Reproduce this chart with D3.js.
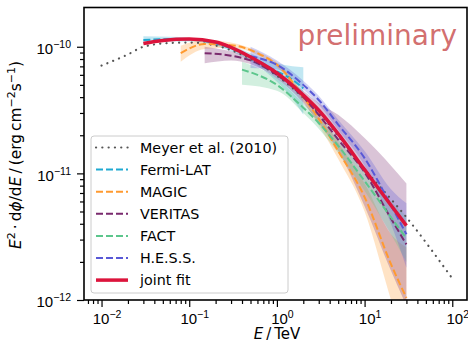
<!DOCTYPE html>
<html>
<head>
<meta charset="utf-8">
<script src="https://cdn.jsdelivr.net/npm/d3@7"></script>
<style>
body { margin: 0; background: #fff; }
svg { font-family: "DejaVu Sans", sans-serif; }
</style>
</head>
<body>
<div id="chart"></div>
<script>
// energies in TeV, E^2 dphi/dE in erg cm^-2 s^-1
var meyerE = [0.01, 0.02, 0.03, 0.06, 0.1, 0.3, 1, 3, 10, 30, 100];
var meyerF = [7.1e-11, 8.7e-11, 1.0e-10, 1.07e-10, 1.08e-10, 9.4e-11, 5.9e-11, 3.0e-11, 1.08e-11, 4.5e-12, 1.48e-12];

var fermiE  = [0.03, 0.06, 0.1, 0.2, 0.3, 0.5, 1, 1.5, 2];
var fermiF  = [1.13e-10, 1.15e-10, 1.14e-10, 1.06e-10, 9.7e-11, 8.3e-11, 6.4e-11, 5.5e-11, 4.7e-11];
var fermiLo = [1.05e-10, 1.1e-10, 1.1e-10, 1.02e-10, 9.2e-11, 7.7e-11, 5.3e-11, 3.9e-11, 2.9e-11];
var fermiHi = [1.21e-10, 1.2e-10, 1.18e-10, 1.1e-10, 1.02e-10, 8.9e-11, 7.4e-11, 7.0e-11, 6.9e-11];

var magicE  = [0.08, 0.15, 0.3, 0.6, 1.1, 2, 3, 5, 10, 20, 30];
var magicF  = [8.9e-11, 1.05e-10, 1.03e-10, 8.9e-11, 6.8e-11, 4.0e-11, 2.7e-11, 1.5e-11, 6.5e-12, 1.92e-12, 1.04e-12];
var magicLo = [7.6e-11, 9.6e-11, 9.8e-11, 8.6e-11, 6.5e-11, 3.7e-11, 2.4e-11, 1.3e-11, 5.0e-12, 1.0e-12, 4e-13];
var magicHi = [1.02e-10, 1.13e-10, 1.08e-10, 9.2e-11, 7.1e-11, 4.3e-11, 3.0e-11, 1.75e-11, 8.3e-12, 3.3e-12, 2.6e-12];

var veritasE  = [0.15, 0.3, 0.5, 1, 2, 3, 5, 10, 20, 30];
var veritasF  = [8.9e-11, 8.5e-11, 7.8e-11, 6.0e-11, 4.0e-11, 2.9e-11, 1.85e-11, 1.02e-11, 4.4e-12, 2.75e-12];
var veritasLo = [7.4e-11, 7.8e-11, 7.3e-11, 5.6e-11, 3.6e-11, 2.5e-11, 1.5e-11, 5.5e-12, 1.7e-12, 9e-13];
var veritasHi = [1.0e-10, 9.2e-11, 8.3e-11, 6.4e-11, 4.5e-11, 3.6e-11, 2.9e-11, 1.9e-11, 1.15e-11, 8.3e-12];

var factE  = [0.4, 1, 2, 3, 5, 10, 20, 30];
var factF  = [6.6e-11, 5.0e-11, 3.3e-11, 2.5e-11, 1.65e-11, 8.7e-12, 4.5e-12, 3.06e-12];
var factLo = [5.0e-11, 4.5e-11, 3.0e-11, 2.25e-11, 1.45e-11, 7.3e-12, 3.3e-12, 2.0e-12];
var factHi = [7.6e-11, 5.6e-11, 3.6e-11, 2.75e-11, 1.85e-11, 1.03e-11, 6.0e-12, 4.6e-12];

var hessE  = [0.5, 1, 2, 3, 5, 10, 20, 30];
var hessF  = [8.4e-11, 7.2e-11, 5.0e-11, 3.8e-11, 2.43e-11, 1.32e-11, 5.6e-12, 3.3e-12];
var hessLo = [6.8e-11, 6.6e-11, 4.6e-11, 3.5e-11, 2.2e-11, 1.15e-11, 4.0e-12, 1.8e-12];
var hessHi = [1.0e-10, 7.8e-11, 5.4e-11, 4.1e-11, 2.65e-11, 1.5e-11, 7.5e-12, 5.8e-12];

var jointE = [0.03, 0.05, 0.1, 0.2, 0.3, 0.5, 1, 2, 3, 5, 10, 20, 30];
var jointF = [1.06e-10, 1.12e-10, 1.15e-10, 1.09e-10, 9.9e-11, 8.3e-11, 6.2e-11, 4.15e-11, 3.15e-11, 2.05e-11, 1.07e-11, 5.6e-12, 3.87e-12];

var xTicks = [1e-2, 1e-1, 1, 1e1, 1e2];
var xTickExp = ["−2", "−1", "0", "1", "2"];
var yTicks = [1e-12, 1e-11, 1e-10];
var yTickExp = ["−12", "−11", "−10"];

var width = 468, height = 344;
var plot = {left: 84, right: 467, top: 7.5, bottom: 300};

var svg = d3.select("#chart").append("svg")
    .attr("width", width)
    .attr("height", height);

var x = d3.scaleLog()
    .domain([Math.pow(10, -2.2), Math.pow(10, 2.168)])
    .range([plot.left, plot.right]);

var y = d3.scaleLog()
    .domain([1e-12, Math.pow(10, -9.69)])
    .range([plot.bottom, plot.top]);

svg.append("clipPath").attr("id", "clip")
    .append("rect")
    .attr("x", plot.left).attr("y", plot.top)
    .attr("width", plot.right - plot.left)
    .attr("height", plot.bottom - plot.top);

var g = svg.append("g").attr("clip-path", "url(#clip)");

function zip(E, F, lo, hi) {
    return E.map(function(e, i) {
        return {e: e, f: F[i], lo: lo ? lo[i] : null, hi: hi ? hi[i] : null};
    });
}

var series = [
    {name: "Meyer et al. (2010)", color: "#555555", data: zip(meyerE, meyerF), dash: "0.1,6.2", width: 2.2, cap: "round"},
    {name: "Fermi-LAT", color: "#1fa9d2", data: zip(fermiE, fermiF, fermiLo, fermiHi), dash: "7,3", width: 2},
    {name: "MAGIC", color: "#ff9a30", data: zip(magicE, magicF, magicLo, magicHi), dash: "7,3", width: 2},
    {name: "VERITAS", color: "#7a2a6e", data: zip(veritasE, veritasF, veritasLo, veritasHi), dash: "7,3", width: 2},
    {name: "FACT", color: "#5cc68c", data: zip(factE, factF, factLo, factHi), dash: "7,3", width: 2},
    {name: "H.E.S.S.", color: "#5858d6", data: zip(hessE, hessF, hessLo, hessHi), dash: "7,3", width: 2},
    {name: "joint fit", color: "#dc143c", data: zip(jointE, jointF), dash: null, width: 3.5}
];

var area = d3.area()
    .x(function(d) { return x(d.e); })
    .y0(function(d) { return y(d.lo); })
    .y1(function(d) { return y(d.hi); })
    .curve(d3.curveMonotoneX);

var line = d3.line()
    .x(function(d) { return x(d.e); })
    .y(function(d) { return y(d.f); })
    .curve(d3.curveMonotoneX);

// bands under all lines
series.forEach(function(s) {
    if (s.data[0].lo === null) return;
    g.append("path")
        .datum(s.data)
        .attr("d", area)
        .style("fill", s.color)
        .style("fill-opacity", 0.28)
        .style("stroke", "none");
});

series.forEach(function(s) {
    g.append("path")
        .datum(s.data)
        .attr("d", line)
        .style("fill", "none")
        .style("stroke", s.color)
        .style("stroke-width", s.width)
        .style("stroke-dasharray", s.dash)
        .style("stroke-linecap", s.cap || "butt");
});

// axes
var xMinor = [], yMinor = [];
for (var p = -3; p <= 2; p++) {
    for (var k = 2; k <= 9; k++) {
        var v = k * Math.pow(10, p);
        if (v > x.domain()[0] && v < x.domain()[1]) xMinor.push(v);
    }
}
for (var q = -12; q <= -10; q++) {
    for (var m = 2; m <= 9; m++) {
        var w = m * Math.pow(10, q);
        if (y(w) > plot.top + 3) yMinor.push(w);
    }
}

function styleAxis(sel) {
    sel.select(".domain").remove();
    sel.selectAll("line").style("stroke", "#000").style("stroke-width", 1.2);
}

svg.append("g")
    .attr("transform", "translate(0," + plot.bottom + ")")
    .call(d3.axisBottom(x).tickValues(xMinor).tickSize(4).tickFormat(""))
    .call(styleAxis);

svg.append("g")
    .attr("transform", "translate(" + plot.left + ",0)")
    .call(d3.axisLeft(y).tickValues(yMinor).tickSize(4).tickFormat(""))
    .call(styleAxis);

var xAxisG = svg.append("g")
    .attr("transform", "translate(0," + plot.bottom + ")")
    .call(d3.axisBottom(x).tickValues(xTicks).tickSize(7).tickPadding(6).tickFormat(""))
    .call(styleAxis);

var yAxisG = svg.append("g")
    .attr("transform", "translate(" + plot.left + ",0)")
    .call(d3.axisLeft(y).tickValues(yTicks).tickSize(7).tickPadding(6).tickFormat(""))
    .call(styleAxis);

function powerLabel(sel, exps) {
    sel.selectAll(".tick text").each(function(d, i) {
        var t = d3.select(this)
            .style("font-size", "15px")
            .style("fill", "#000")
            .attr("font-family", null);
        t.append("tspan").text("10");
        t.append("tspan").attr("dy", "-6").style("font-size", "10.5px").text(exps[i]);
    });
}
powerLabel(xAxisG, xTickExp);
powerLabel(yAxisG, yTickExp);
xAxisG.selectAll(".tick text").attr("dy", "0.71em").attr("dx", "5");
yAxisG.selectAll(".tick text").attr("dy", "0.45em");

// frame
svg.append("rect")
    .attr("x", plot.left).attr("y", plot.top)
    .attr("width", plot.right - plot.left)
    .attr("height", plot.bottom - plot.top)
    .style("fill", "none")
    .style("stroke", "#000")
    .style("stroke-width", 1.6);

// axis titles
var xt = svg.append("text")
    .attr("x", 277).attr("y", 339)
    .attr("text-anchor", "middle")
    .style("font-size", "15px");
xt.append("tspan").style("font-style", "italic").text("E");
xt.append("tspan").text("\u2009/\u2009TeV");

var yt = svg.append("text")
    .attr("transform", "translate(21,155) rotate(-90)")
    .attr("text-anchor", "middle")
    .style("font-size", "15.4px");
var yParts = [
    {t: "E", it: true}, {t: "2", sup: true}, {t: "\u2009·\u2009d"}, {t: "ϕ", it: true},
    {t: "/d"}, {t: "E", it: true}, {t: "\u2009/\u2009(erg\u2009cm"}, {t: "−2", sup: true},
    {t: "s"}, {t: "−1", sup: true}, {t: ")"}
];
var shifted = false;
yParts.forEach(function(pt) {
    var ts = yt.append("tspan").text(pt.t);
    if (pt.it) ts.style("font-style", "italic");
    if (pt.sup) {
        ts.attr("dy", shifted ? 0 : -6.5).style("font-size", "11px");
        shifted = true;
    } else if (shifted) {
        ts.attr("dy", 6.5);
        shifted = false;
    }
});

// preliminary stamp
svg.append("text")
    .attr("x", 457).attr("y", 45)
    .attr("text-anchor", "end")
    .style("font-size", "28px")
    .style("fill", "#cd5c5c")
    .style("fill-opacity", 0.9)
    .text("preliminary");

// legend
var legend = svg.append("g");
legend.append("rect")
    .attr("x", 91).attr("y", 136)
    .attr("width", 197).attr("height", 157)
    .attr("rx", 3)
    .style("fill", "#fff")
    .style("fill-opacity", 0.8)
    .style("stroke", "#cccccc")
    .style("stroke-width", 1);

series.forEach(function(s, i) {
    var ly = 147.5 + i * 22.1;
    legend.append("line")
        .attr("x1", 96).attr("x2", 128)
        .attr("y1", ly).attr("y2", ly)
        .style("stroke", s.color)
        .style("stroke-width", s.width)
        .style("stroke-dasharray", s.dash)
        .style("stroke-linecap", s.cap || "butt");
    legend.append("text")
        .attr("x", 140).attr("y", ly)
        .attr("dy", "0.36em")
        .style("font-size", "14.3px")
        .text(s.name);
});
</script>
</body>
</html>
